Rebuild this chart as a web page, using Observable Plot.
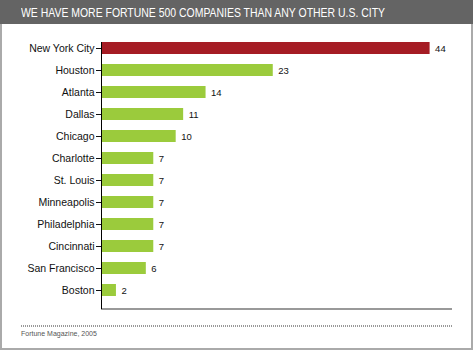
<!DOCTYPE html>
<html>
<head>
<meta charset="utf-8">
<script src="https://cdn.jsdelivr.net/npm/d3@7"></script>
<script src="https://cdn.jsdelivr.net/npm/@observablehq/plot@0.6"></script>
<style>
  html, body { margin: 0; padding: 0; background: #fff; }
  #wrap { position: relative; width: 473px; height: 350px; overflow: hidden; font-family: "Liberation Sans", Arial, sans-serif; }
  #title { position: absolute; left: 0; top: 0; width: 473px; height: 24px; background: #646464; }
  #titletext { position: absolute; left: 21px; top: 0; color: #fff; font-size: 13px; line-height: 25px; white-space: nowrap; transform-origin: 0 50%; }
  #border { position: absolute; left: 0; top: 24px; width: 473px; height: 326px; box-sizing: border-box; border-left: 2px solid #aaa; border-right: 2px solid #aaa; border-bottom: 2px solid #aaa; pointer-events: none; }
  #chart { position: absolute; left: 0; top: 24px; width: 473px; height: 300px; }
  #chart svg { display: block; max-width: none; }
  #dots { position: absolute; left: 21px; top: 325px; width: 431px; height: 2px; background: repeating-linear-gradient(to right, #999 0 1px, transparent 1px 2px); }
  #caption { position: absolute; left: 21px; top: 330px; font-size: 7px; color: #555; white-space: nowrap; }
</style>
</head>
<body>
<div id="wrap">
  <div id="title"><span id="titletext">WE HAVE MORE FORTUNE 500 COMPANIES THAN ANY OTHER U.S. CITY</span></div>
  <div id="chart"></div>
  <div id="dots"></div>
  <div id="caption">Fortune Magazine, 2005</div>
  <div id="border"></div>
</div>
<script>
const cities = ["New York City", "Houston", "Atlanta", "Dallas", "Chicago", "Charlotte", "St. Louis", "Minneapolis", "Philadelphia", "Cincinnati", "San Francisco", "Boston"];
const companies = [44, 23, 14, 11, 10, 7, 7, 7, 7, 7, 6, 2];
const highlight = "New York City";

const data = cities.map((c, i) => ({city: c, value: companies[i]}));

const bottomLine = (index, scales, values, dims) => {
  const g = d3.create("svg:g");
  const y = dims.height - dims.marginBottom;
  g.append("line")
    .attr("x1", dims.marginLeft).attr("x2", dims.width - dims.marginRight)
    .attr("y1", y).attr("y2", y)
    .attr("stroke", "#999").attr("stroke-width", 2);
  return g.node();
};

const chart = Plot.plot({
  width: 473,
  height: 300,
  marginLeft: 101,
  marginRight: 21,
  marginTop: 18,
  marginBottom: 15,
  style: {fontFamily: '"Liberation Sans", Arial, sans-serif', fontSize: "10.5px", color: "#111", background: "transparent", maxWidth: "none"},
  x: {domain: [0, 47], axis: null},
  y: {domain: cities, label: null, tickSize: 5, tickPadding: 2, paddingInner: 0.474, paddingOuter: 0.092, align: 0},
  marks: [
    Plot.barX(data.filter(d => d.city !== highlight), {x: "value", y: "city", fill: "#9bcb3c"}),
    Plot.barX(data.filter(d => d.city === highlight), {x: "value", y: "city", fill: "#a51c24"}),
    Plot.text(data, {x: "value", y: "city", text: d => String(d.value), dx: 5, textAnchor: "start", fontSize: 9.5, fill: "#111"}),
    bottomLine,
    Plot.ruleX([0], {stroke: "#000", strokeWidth: 1})
  ]
});
document.getElementById("chart").appendChild(chart);

const tt = document.getElementById("titletext");
const w = tt.getBoundingClientRect().width;
tt.style.transform = `scaleX(${364 / w})`;
</script>
</body>
</html>
